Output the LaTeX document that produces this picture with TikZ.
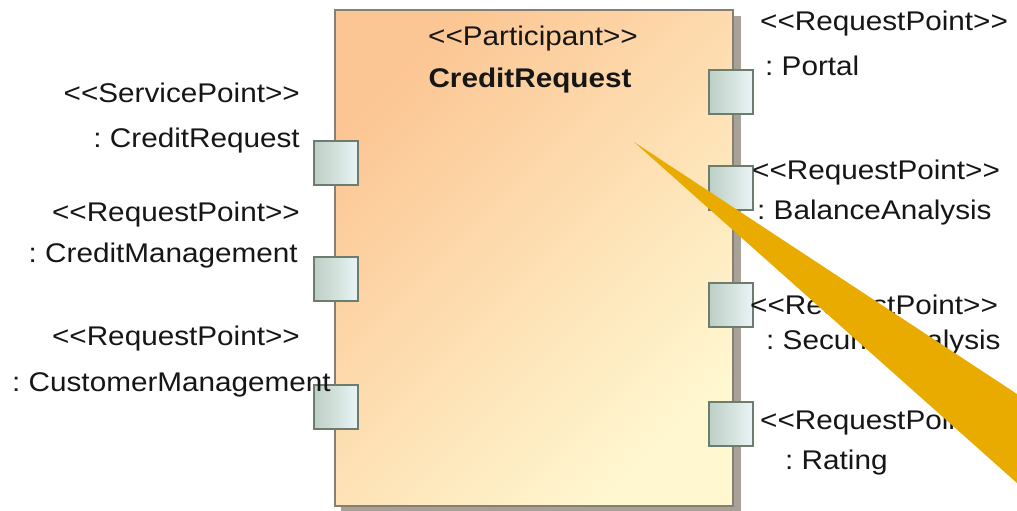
\documentclass[tikz,border=0pt]{standalone}
\usepackage{fontspec}
\setmainfont[FakeStretch=1.1,Ligatures=TeXOff]{Liberation Sans}
\definecolor{partA}{RGB}{252,198,148}
\definecolor{partB}{RGB}{255,247,208}
\definecolor{partLine}{RGB}{135,127,113}
\definecolor{shadowc}{RGB}{168,161,151}
\definecolor{portA}{RGB}{188,207,196}
\definecolor{portB}{RGB}{234,244,246}
\definecolor{portLine}{RGB}{108,124,110}
\definecolor{calloutc}{RGB}{234,171,0}
\definecolor{inkc}{RGB}{22,22,22}
\begin{document}
\frenchspacing
\begin{tikzpicture}[x=1pt,y=-1pt,
  participant/.style={draw=partLine, line width=2pt, top color=partA, bottom color=partB,
    shading angle=45, minimum width=398pt, minimum height=496pt, inner sep=0pt},
  port/.style={draw=portLine, line width=1.5pt, left color=portA, right color=portB,
    minimum size=44pt, inner sep=0pt},
  lbl/.style={text=inkc, inner sep=0pt, font=\fontsize{27}{32}\selectfont},
  title/.style={lbl, font=\fontsize{27}{32}\selectfont\bfseries}]
\useasboundingbox (0,0) rectangle (1017,511);
\fill[white] (0,0) rectangle (1017,511);

% shadow and body of the participant
\fill[shadowc] (341,16) rectangle (741,511);
\node[participant] (part) at (534,258) {};
\node[lbl, anchor=base] (stereo) at (533,46) {<<Participant>>};
\node[title, anchor=base] (name) at (530,88) {CreditRequest};

% ports on the left side
\node[port] (pl1) at (336,163) {};
\node[port] (pl2) at (336,279) {};
\node[port] (pl3) at (336,407) {};
% ports on the right side
\node[port] (pr1) at (731,92) {};
\node[port] (pr2) at (731,188) {};
\node[port] (pr3) at (731,305) {};
\node[port] (pr4) at (731,424) {};

% labels of the left ports
\node[lbl, anchor=base east] (l1a) at (300,102) {<<ServicePoint>>};
\node[lbl, anchor=base east] (l1b) at (300,147) {: CreditRequest};
\node[lbl, anchor=base east] (l2a) at (300,221) {<<RequestPoint>>};
\node[lbl, anchor=base east] (l2b) at (298,262) {: CreditManagement};
\node[lbl, anchor=base east] (l3a) at (300,345) {<<RequestPoint>>};
\node[lbl, anchor=base east] (l3b) at (331,391) {: CustomerManagement};

% labels of the right ports
\node[lbl, anchor=base west] (r1a) at (760,31) {<<RequestPoint>>};
\node[lbl, anchor=base west] (r1b) at (765,75) {: Portal};
\node[lbl, anchor=base west] (r2a) at (752,179) {<<RequestPoint>>};
\node[lbl, anchor=base west] (r2b) at (757,219) {: BalanceAnalysis};
\node[lbl, anchor=base west] (r3a) at (750,314) {<<RequestPoint>>};
\node[lbl, anchor=base west] (r3b) at (766,349) {: SecurityAnalysis};
\node[lbl, anchor=base west] (r4a) at (760,429) {<<RequestPoint>>};
\node[lbl, anchor=base west] (r4b) at (785,469) {: Rating};

% callout wedge over the right side
\coordinate (tip) at (634,142);
\coordinate (wtop) at (1017,394);
\coordinate (wbot) at (1017,483);
\fill[calloutc] (tip) -- (wtop) -- (wbot) -- cycle;
\end{tikzpicture}
\end{document}
